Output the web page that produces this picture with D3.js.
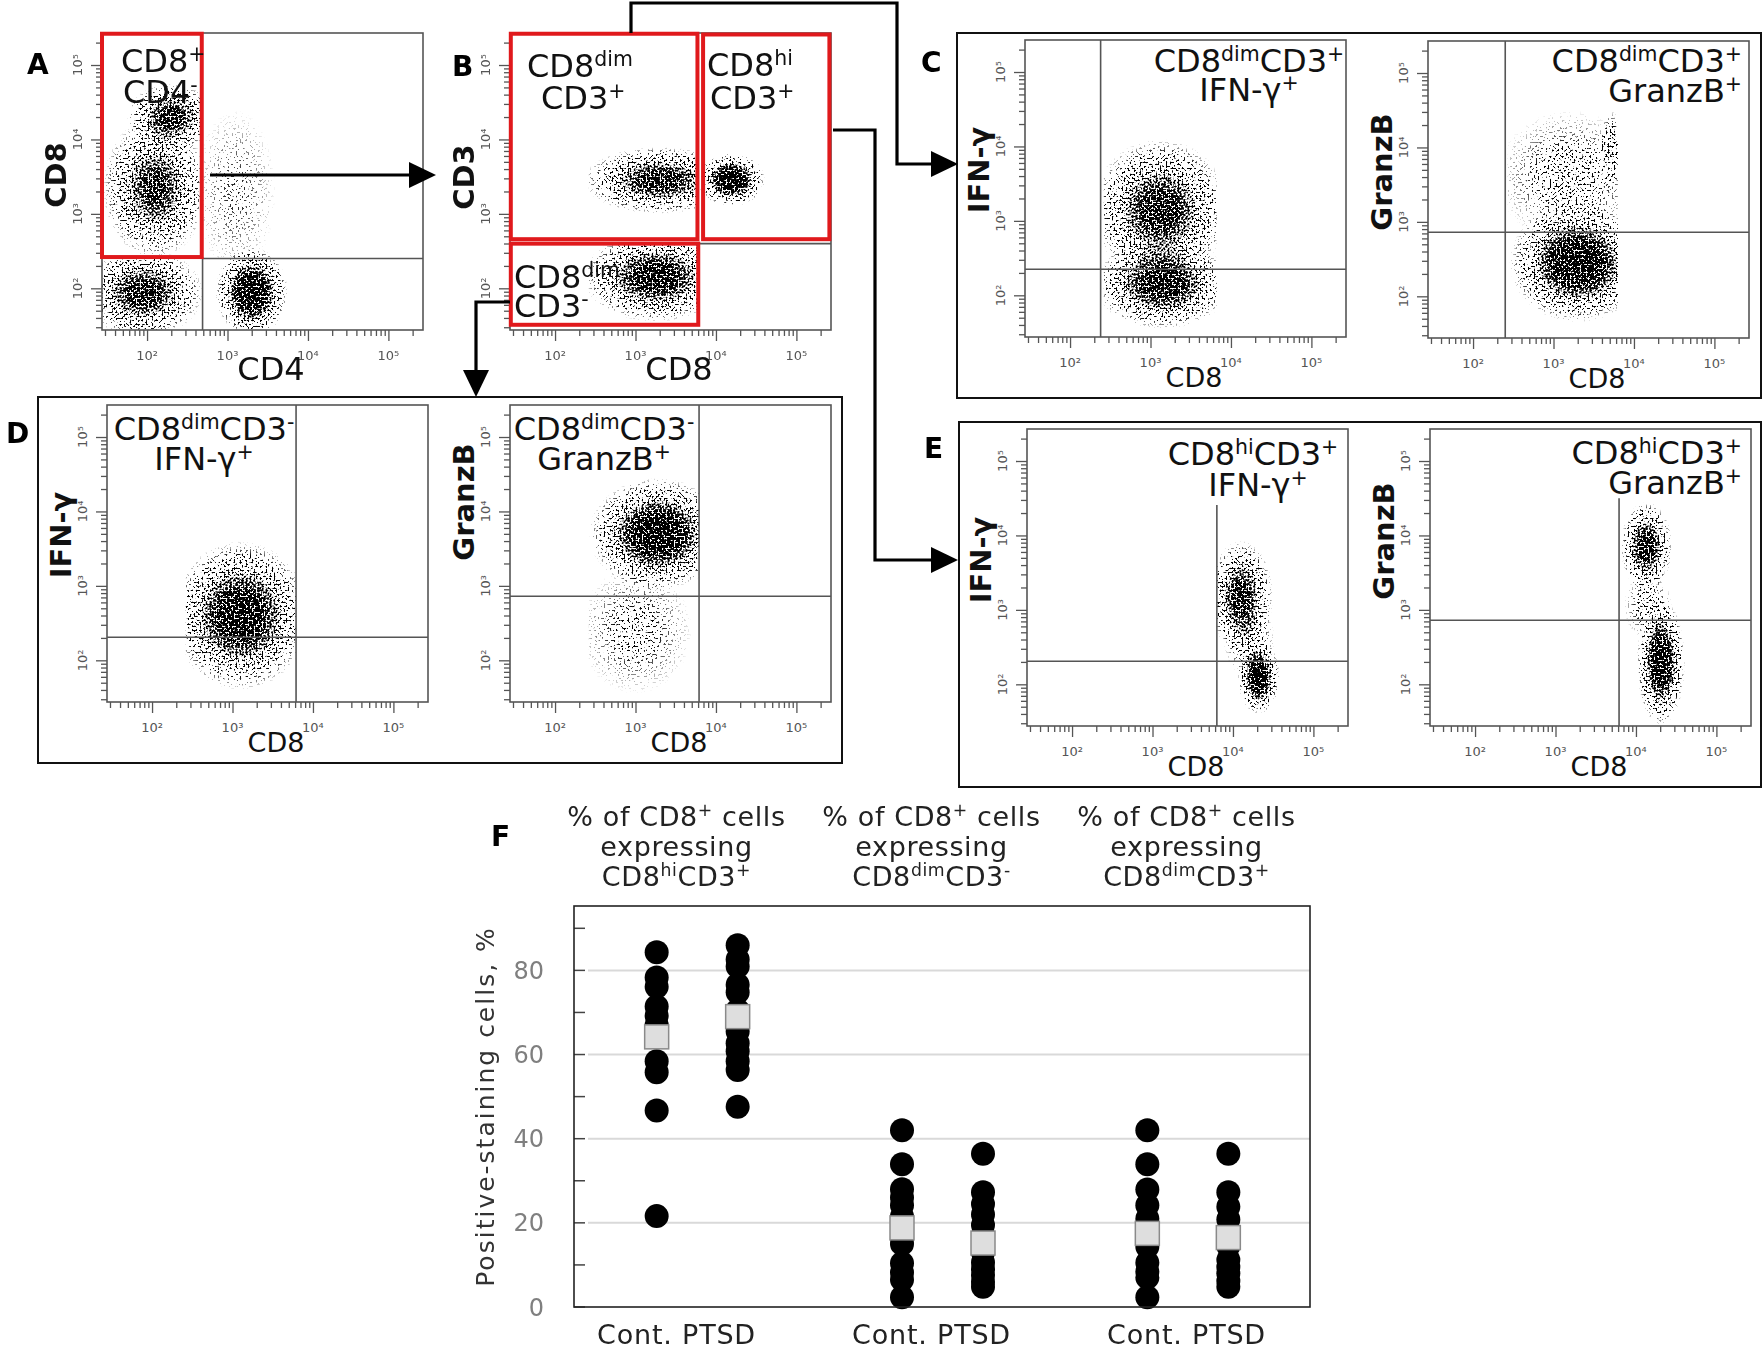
<!DOCTYPE html>
<html>
<head>
<meta charset="utf-8">
<script src="https://cdn.jsdelivr.net/npm/d3@7"></script>
<style>
  body { margin: 0; background: #fff; }
  text { font-family: "DejaVu Sans", sans-serif; }
</style>
</head>
<body>
<div id="figure"></div>
<script>
// ---------------- Panel F: percentages ----------------
var fGroups = ["CD8hiCD3+", "CD8dimCD3-", "CD8dimCD3+"];
var fGroupSup = [["hi", "+"], ["dim", "-"], ["dim", "+"]];
var fCohorts = ["Cont.", "PTSD"];

var contValues = [
  [84.3, 78.3, 76.1, 71.4, 69.2, 67.0, 64.4, 58.4, 55.8, 46.7, 21.6],
  [42.0, 33.9, 28.0, 26.0, 24.2, 21.5, 16.5, 15.0, 10.4, 8.2, 6.5, 2.3],
  [42.0, 33.9, 27.9, 24.2, 21.0, 16.0, 14.3, 10.5, 8.4, 7.0, 2.3]
];
var ptsdValues = [
  [86.0, 82.6, 80.9, 76.6, 74.8, 70.5, 68.0, 65.5, 62.7, 60.8, 58.4, 56.3, 47.6],
  [36.4, 27.3, 24.5, 22.0, 19.5, 17.0, 13.0, 10.6, 9.0, 7.6, 6.0, 4.8],
  [36.4, 27.3, 23.8, 20.8, 18.0, 14.5, 11.2, 9.5, 8.0, 6.2, 4.8]
];
// group means (grey squares)
var contMeans = [64.2, 18.8, 17.5];
var ptsdMeans = [69.0, 15.2, 16.5];

var fTicks = [0, 20, 40, 60, 80];
var fMinorTicks = [10, 30, 50, 70, 90];
var fMax = 95.3;

// ---------------- Panels A-E: flow cytometry (log10 fluorescence) ----------------
var flowDomain = [1.44, 5.43];   // log10 of axis ends
var decades = [2, 3, 4, 5];

// event clouds: [log x centre, log y centre, log x reach, log y reach, density,
//                clip x0, clip x1, clip y0, clip y1]   (clip = gate the events came through)
var clustersA = [
  [2.30, 4.30, 0.55, 0.45, 0.80, 1.44, 2.68, 2.42, 5.43],
  [2.10, 3.35, 0.65, 0.95, 0.75, 1.44, 2.68, 2.42, 5.43],
  [1.95, 1.94, 0.75, 0.60, 0.80, 1.44, 2.70, 1.44, 2.40],
  [3.30, 1.95, 0.45, 0.60, 1.00, 1.44, 5.43, 1.44, 5.43],
  [3.10, 3.30, 0.50, 1.10, 0.18, 2.70, 5.43, 2.40, 5.43]
];
var clustersB = [
  [3.30, 3.45, 0.95, 0.45, 0.80, 2.42, 3.77, 1.44, 5.43],
  [4.19, 3.46, 0.42, 0.36, 1.00, 1.44, 5.43, 1.44, 5.43],
  [3.25, 2.15, 0.90, 0.60, 0.85, 2.42, 3.80, 1.44, 2.62]
];
var clustersC1 = [
  [3.12, 3.15, 0.85, 0.95, 0.80, 2.42, 3.82, 1.50, 5.43],
  [3.15, 2.15, 0.85, 0.60, 0.85, 2.42, 3.82, 1.50, 5.43]
];
var clustersC2 = [
  [3.30, 2.45, 0.85, 0.80, 0.95, 2.43, 3.80, 1.50, 5.43],
  [3.20, 3.60, 0.90, 0.90, 0.28, 2.43, 3.80, 1.50, 5.43],
  [3.72, 4.00, 0.14, 0.50, 0.40, 2.43, 3.80, 1.50, 5.43]
];
var clustersD1 = [
  [3.10, 2.60, 0.85, 1.00, 0.90, 2.42, 3.79, 1.55, 5.43]
];
var clustersD2 = [
  [3.27, 3.70, 0.85, 0.75, 0.95, 2.42, 3.79, 1.50, 5.43],
  [3.00, 2.40, 0.70, 0.85, 0.25, 2.42, 3.79, 1.50, 5.43]
];
var clustersE1 = [
  [4.10, 3.18, 0.40, 0.75, 0.80, 3.80, 5.43, 1.44, 5.43],
  [4.32, 2.10, 0.26, 0.50, 1.00, 3.80, 5.43, 1.44, 5.43],
  [4.20, 2.60, 0.32, 0.50, 0.35, 3.80, 5.43, 1.44, 5.43]
];
var clustersE2 = [
  [4.13, 3.85, 0.32, 0.60, 0.85, 3.79, 5.43, 1.44, 5.43],
  [4.31, 2.30, 0.30, 0.85, 0.95, 3.79, 5.43, 1.44, 5.43],
  [4.15, 3.05, 0.30, 0.45, 0.30, 3.79, 5.43, 1.44, 5.43]
];

// red gates [x0, x1, y0, y1] in log10
var gatesA = [[1.44, 2.68, 2.42, 5.42]];
var gatesB = [[1.45, 3.77, 2.66, 5.42], [3.84, 5.41, 2.66, 5.41], [1.45, 3.78, 1.51, 2.60]];

// quadrant lines [x0, y0, x1, y1] in log10
var linesA = [[2.69, 1.44, 2.69, 2.42], [2.69, 2.40, 5.43, 2.40]];
var linesB = [[3.80, 2.60, 5.43, 2.60]];
var linesC1 = [[2.38, 1.44, 2.38, 5.43], [1.44, 2.35, 5.43, 2.35]];
var linesC2 = [[2.40, 1.44, 2.40, 5.43], [1.44, 2.86, 5.43, 2.86]];
var linesD1 = [[3.79, 1.44, 3.79, 5.43], [1.44, 2.31, 5.43, 2.31]];
var linesD2 = [[3.79, 1.44, 3.79, 5.43], [1.44, 2.86, 5.43, 2.86]];
var linesE1 = [[3.80, 1.44, 3.80, 4.41], [1.44, 2.31, 5.43, 2.31]];
var linesE2 = [[3.79, 1.44, 3.79, 4.50], [1.44, 2.86, 5.43, 2.86]];

// ---------------- layout ----------------
var FW = 321, FH = 297;   // flow plot frame size

var plots = [
  { key: "A", left: 102, top: 33, clusters: clustersA, gates: gatesA, lines: linesA,
    xTitle: "CD4", yTitle: "CD8", titleSize: 32, yTitleY: 175,
    labels: [
      { x: 121, y: 72, anchor: "start", parts: [["CD8", 0], ["+", 1]] },
      { x: 123, y: 103, anchor: "start", parts: [["CD4", 0], ["-", 1]] }] },
  { key: "B", left: 510, top: 33, clusters: clustersB, gates: gatesB, lines: linesB,
    xTitle: "CD8", yTitle: "CD3", titleSize: 32, yTitleY: 177,
    labels: [
      { x: 527, y: 77, anchor: "start", parts: [["CD8", 0], ["dim", 1]] },
      { x: 541, y: 109, anchor: "start", parts: [["CD3", 0], ["+", 1]] },
      { x: 707, y: 76, anchor: "start", parts: [["CD8", 0], ["hi", 1]] },
      { x: 710, y: 109, anchor: "start", parts: [["CD3", 0], ["+", 1]] },
      { x: 514, y: 288, anchor: "start", parts: [["CD8", 0], ["dim", 1]] },
      { x: 514, y: 317, anchor: "start", parts: [["CD3", 0], ["-", 1]] }] },
  { key: "C1", left: 1025, top: 40, clusters: clustersC1, gates: [], lines: linesC1,
    xTitle: "CD8", yTitle: "IFN-γ", titleSize: 27, yTitleY: 170,
    labels: [
      { x: 1249, y: 72, anchor: "middle", parts: [["CD8", 0], ["dim", 1], ["CD3", 0], ["+", 1]] },
      { x: 1249, y: 101, anchor: "middle", parts: [["IFN-γ", 0], ["+", 1]] }] },
  { key: "C2", left: 1428, top: 41, clusters: clustersC2, gates: [], lines: linesC2,
    xTitle: "CD8", yTitle: "GranzB", titleSize: 27, yTitleY: 172,
    labels: [
      { x: 1742, y: 72, anchor: "end", parts: [["CD8", 0], ["dim", 1], ["CD3", 0], ["+", 1]] },
      { x: 1742, y: 102, anchor: "end", parts: [["GranzB", 0], ["+", 1]] }] },
  { key: "D1", left: 107, top: 405, clusters: clustersD1, gates: [], lines: linesD1,
    xTitle: "CD8", yTitle: "IFN-γ", titleSize: 27, yTitleY: 535,
    labels: [
      { x: 204, y: 440, anchor: "middle", parts: [["CD8", 0], ["dim", 1], ["CD3", 0], ["-", 1]] },
      { x: 204, y: 470, anchor: "middle", parts: [["IFN-γ", 0], ["+", 1]] }] },
  { key: "D2", left: 510, top: 405, clusters: clustersD2, gates: [], lines: linesD2,
    xTitle: "CD8", yTitle: "GranzB", titleSize: 27, yTitleY: 502,
    labels: [
      { x: 604, y: 440, anchor: "middle", parts: [["CD8", 0], ["dim", 1], ["CD3", 0], ["-", 1]] },
      { x: 604, y: 470, anchor: "middle", parts: [["GranzB", 0], ["+", 1]] }] },
  { key: "E1", left: 1027, top: 429, clusters: clustersE1, gates: [], lines: linesE1,
    xTitle: "CD8", yTitle: "IFN-γ", titleSize: 27, yTitleY: 560,
    labels: [
      { x: 1253, y: 465, anchor: "middle", parts: [["CD8", 0], ["hi", 1], ["CD3", 0], ["+", 1]] },
      { x: 1258, y: 496, anchor: "middle", parts: [["IFN-γ", 0], ["+", 1]] }] },
  { key: "E2", left: 1430, top: 429, clusters: clustersE2, gates: [], lines: linesE2,
    xTitle: "CD8", yTitle: "GranzB", titleSize: 27, yTitleY: 541,
    labels: [
      { x: 1742, y: 464, anchor: "end", parts: [["CD8", 0], ["hi", 1], ["CD3", 0], ["+", 1]] },
      { x: 1742, y: 494, anchor: "end", parts: [["GranzB", 0], ["+", 1]] }] }
];

var supDigits = { 2: "²", 3: "³", 4: "⁴", 5: "⁵" };

// ---------------- svg ----------------
var svg = d3.select("#figure").append("svg")
  .attr("width", 1763)
  .attr("height", 1352)
  .style("display", "block");

svg.append("rect").attr("width", 1763).attr("height", 1352).attr("fill", "#fff");

var defs = svg.append("defs");

// density -> speckled events: threshold the cloud alpha against a fine noise field
var speckle = defs.append("filter")
  .attr("id", "speckle")
  .attr("color-interpolation-filters", "sRGB")
  .attr("x", "-5%").attr("y", "-5%").attr("width", "110%").attr("height", "110%");
speckle.append("feTurbulence")
  .attr("type", "fractalNoise").attr("baseFrequency", 0.5)
  .attr("numOctaves", 1).attr("seed", 11).attr("result", "noise");
speckle.append("feColorMatrix")
  .attr("in", "noise").attr("type", "matrix")
  .attr("values", "0 0 0 0 0  0 0 0 0 0  0 0 0 0 0  3 0 0 0 -1")
  .attr("result", "thr");
speckle.append("feComposite")
  .attr("in", "SourceAlpha").attr("in2", "thr").attr("operator", "arithmetic")
  .attr("k1", 0).attr("k2", 5).attr("k3", -5).attr("k4", 0)
  .attr("result", "dots");
speckle.append("feFlood").attr("flood-color", "#000").attr("result", "ink");
speckle.append("feComposite").attr("in", "ink").attr("in2", "dots").attr("operator", "in");

var blob = defs.append("radialGradient").attr("id", "blob");
[[0, 1], [0.25, 0.9], [0.5, 0.65], [0.75, 0.3], [1, 0]].forEach(s => {
  blob.append("stop")
    .attr("offset", s[0])
    .attr("stop-color", "#000")
    .attr("stop-opacity", s[1]);
});

// text with raised parts, parts = [[string, isSuperscript], ...]
function richText(sel, parts) {
  var raised = false;
  parts.forEach(p => {
    var t = sel.append("tspan").text(p[0]);
    if (p[1] && !raised) {
      t.attr("dy", "-0.55em").attr("font-size", "0.64em");
      raised = true;
    } else if (p[1]) {
      t.attr("font-size", "0.64em");
    } else if (raised) {
      t.attr("dy", "0.352em");
      raised = false;
    }
  });
  return sel;
}

// ---------------- flow plots ----------------
function drawFlow(p) {
  var x = d3.scaleLog()
    .domain(flowDomain.map(v => Math.pow(10, v)))
    .range([p.left, p.left + FW]);
  var y = d3.scaleLog()
    .domain(flowDomain.map(v => Math.pow(10, v)))
    .range([p.top + FH, p.top]);
  var lx = v => x(Math.pow(10, v));
  var ly = v => y(Math.pow(10, v));

  var g = svg.append("g").attr("class", "flow-" + p.key);

  // event clouds
  var cloud = g.append("g").attr("filter", "url(#speckle)");
  p.clusters.forEach((c, i) => {
    var clipId = "clip-" + p.key + "-" + i;
    defs.append("clipPath").attr("id", clipId)
      .append("rect")
      .attr("x", lx(c[5]))
      .attr("width", lx(c[6]) - lx(c[5]))
      .attr("y", ly(c[8]))
      .attr("height", ly(c[7]) - ly(c[8]));
    cloud.append("ellipse")
      .attr("cx", lx(c[0]))
      .attr("cy", ly(c[1]))
      .attr("rx", lx(c[0] + c[2]) - lx(c[0]))
      .attr("ry", ly(c[1]) - ly(c[1] + c[3]))
      .attr("fill", "url(#blob)")
      .attr("opacity", c[4])
      .attr("clip-path", "url(#" + clipId + ")");
  });

  // log ticks, outside the frame
  var minor = [];
  d3.range(1, 6).forEach(k => {
    d3.range(1, 10).forEach(m => {
      var v = m * Math.pow(10, k);
      var lv = Math.log10(v);
      if (lv >= flowDomain[0] && lv <= flowDomain[1] && m !== 1) minor.push(v);
    });
  });
  var majors = decades.map(d => Math.pow(10, d));

  function tickAxis(axis, size, values) {
    return axis.tickValues(values).tickSize(size).tickFormat("");
  }
  [[minor, 6], [majors, 11]].forEach(t => {
    g.append("g")
      .attr("transform", `translate(0, ${p.top + FH})`)
      .call(tickAxis(d3.axisBottom(x), t[1], t[0]))
      .call(s => s.select(".domain").remove())
      .selectAll("line").attr("stroke", "#555").attr("stroke-width", 1.3);
    g.append("g")
      .attr("transform", `translate(${p.left}, 0)`)
      .call(tickAxis(d3.axisLeft(y), t[1], t[0]))
      .call(s => s.select(".domain").remove())
      .selectAll("line").attr("stroke", "#555").attr("stroke-width", 1.3);
  });

  g.selectAll("text.xtick")
    .data(decades)
    .join("text")
    .attr("class", "xtick")
    .attr("x", d => lx(d))
    .attr("y", p.top + FH + 30)
    .attr("text-anchor", "middle")
    .attr("font-size", 13)
    .attr("fill", "#555")
    .text(d => "10" + supDigits[d]);

  g.selectAll("text.ytick")
    .data(decades)
    .join("text")
    .attr("class", "ytick")
    .attr("transform", d => `translate(${p.left - 20}, ${ly(d)}) rotate(-90)`)
    .attr("text-anchor", "middle")
    .attr("font-size", 13)
    .attr("fill", "#555")
    .text(d => "10" + supDigits[d]);

  // quadrant lines
  g.selectAll("line.quad")
    .data(p.lines)
    .join("line")
    .attr("class", "quad")
    .attr("x1", d => lx(d[0])).attr("y1", d => ly(d[1]))
    .attr("x2", d => lx(d[2])).attr("y2", d => ly(d[3]))
    .attr("stroke", "#555")
    .attr("stroke-width", 1.6);

  // frame
  g.append("rect")
    .attr("x", p.left).attr("y", p.top)
    .attr("width", FW).attr("height", FH)
    .attr("fill", "none")
    .attr("stroke", "#555")
    .attr("stroke-width", 1.6);

  // red gates
  g.selectAll("rect.gate")
    .data(p.gates)
    .join("rect")
    .attr("class", "gate")
    .attr("x", d => lx(d[0]))
    .attr("y", d => ly(d[3]))
    .attr("width", d => lx(d[1]) - lx(d[0]))
    .attr("height", d => ly(d[2]) - ly(d[3]))
    .attr("fill", "none")
    .attr("stroke", "#e0191c")
    .attr("stroke-width", 4);

  // population labels
  p.labels.forEach(l => {
    richText(g.append("text")
      .attr("x", l.x).attr("y", l.y)
      .attr("text-anchor", l.anchor)
      .attr("font-size", 32)
      .attr("fill", "#111"), l.parts);
  });

  // axis titles
  g.append("text")
    .attr("x", p.left + 169)
    .attr("y", p.top + FH + 50)
    .attr("text-anchor", "middle")
    .attr("font-size", p.titleSize)
    .attr("fill", "#111")
    .text(p.xTitle);

  g.append("text")
    .attr("transform", `translate(${p.left - 36}, ${p.yTitleY}) rotate(-90)`)
    .attr("text-anchor", "middle")
    .attr("font-size", 29)
    .attr("font-weight", "bold")
    .attr("fill", "#111")
    .text(p.yTitle);
}

// panel boxes for C, D, E
var boxes = [[957, 33, 1761, 398], [38, 397, 842, 763], [959, 422, 1761, 787]];
svg.selectAll("rect.box")
  .data(boxes)
  .join("rect")
  .attr("class", "box")
  .attr("x", d => d[0]).attr("y", d => d[1])
  .attr("width", d => d[2] - d[0]).attr("height", d => d[3] - d[1])
  .attr("fill", "none")
  .attr("stroke", "#111")
  .attr("stroke-width", 2);

plots.forEach(drawFlow);

// gating arrows
var arrows = [
  { pts: [[210, 175], [412, 175]], tip: [436, 175], dir: "right" },
  { pts: [[631, 33], [631, 3], [897, 3], [897, 164], [934, 164]], tip: [958, 164], dir: "right" },
  { pts: [[833, 130], [875, 130], [875, 560], [934, 560]], tip: [958, 560], dir: "right" },
  { pts: [[510, 302], [476, 302], [476, 374]], tip: [476, 397], dir: "down" }
];
arrows.forEach(a => {
  svg.append("path")
    .attr("d", d3.line()(a.pts))
    .attr("fill", "none")
    .attr("stroke", "#000")
    .attr("stroke-width", 3.2);
  var t = a.tip;
  var head = a.dir === "right"
    ? [[t[0] - 27, t[1] - 13], t, [t[0] - 27, t[1] + 13]]
    : [[t[0] - 13, t[1] - 27], t, [t[0] + 13, t[1] - 27]];
  svg.append("path")
    .attr("d", d3.line()(head) + "Z")
    .attr("fill", "#000");
});

// panel letters
var letters = [["A", 27, 74], ["B", 452, 76], ["C", 921, 72], ["D", 6, 443], ["E", 924, 458], ["F", 491, 846]];
svg.selectAll("text.letter")
  .data(letters)
  .join("text")
  .attr("class", "letter")
  .attr("x", d => d[1]).attr("y", d => d[2])
  .attr("font-family", "DejaVu Sans Condensed, DejaVu Sans")
  .attr("font-weight", "bold")
  .attr("font-size", 28)
  .attr("fill", "#000")
  .text(d => d[0]);

// ---------------- panel F ----------------
var fFont = "Open Sans, Noto Sans, sans-serif";
var fLeft = 574, fRight = 1310, fTop = 906, fBottom = 1307;

var fx = d3.scaleBand().domain(fGroups).range([fLeft, fRight]);
var fSub = d3.scalePoint().domain(fCohorts).range([-40, 41]);
var fLabelX = d3.scaleBand().domain(fGroups).range([549, 1314]);
var fy = d3.scaleLinear().domain([0, fMax]).range([fBottom, fTop]);

var fg = svg.append("g").attr("class", "panel-f");

// gridlines
fg.selectAll("line.grid")
  .data(fTicks.filter(d => d > 0))
  .join("line")
  .attr("class", "grid")
  .attr("x1", fLeft + 14).attr("x2", fRight)
  .attr("y1", d => fy(d)).attr("y2", d => fy(d))
  .attr("stroke", "#d9d9d9")
  .attr("stroke-width", 2);

// inward ticks
fg.selectAll("line.ftick")
  .data(fTicks.concat(fMinorTicks))
  .join("line")
  .attr("class", "ftick")
  .attr("x1", fLeft).attr("x2", fLeft + 11)
  .attr("y1", d => fy(d)).attr("y2", d => fy(d))
  .attr("stroke", "#444")
  .attr("stroke-width", 1.5);

fg.selectAll("text.flabel")
  .data(fTicks)
  .join("text")
  .attr("class", "flabel")
  .attr("x", fLeft - 30)
  .attr("y", d => fy(d))
  .attr("dy", "0.36em")
  .attr("text-anchor", "end")
  .attr("font-family", fFont)
  .attr("font-size", 24)
  .attr("fill", "#7f7f7f")
  .text(d => d);

// individual subjects
var points = [];
fGroups.forEach((grp, i) => {
  contValues[i].forEach(v => points.push({ grp: grp, cohort: "Cont.", v: v }));
  ptsdValues[i].forEach(v => points.push({ grp: grp, cohort: "PTSD", v: v }));
});
var colX = d => fx(d.grp) + fx.bandwidth() / 2 + fSub(d.cohort);

fg.selectAll("circle.subject")
  .data(points)
  .join("circle")
  .attr("class", "subject")
  .attr("cx", colX)
  .attr("cy", d => fy(d.v))
  .attr("r", 12)
  .attr("fill", "#000");

// means
var means = [];
fGroups.forEach((grp, i) => {
  means.push({ grp: grp, cohort: "Cont.", v: contMeans[i] });
  means.push({ grp: grp, cohort: "PTSD", v: ptsdMeans[i] });
});
fg.selectAll("rect.mean")
  .data(means)
  .join("rect")
  .attr("class", "mean")
  .attr("x", d => colX(d) - 12)
  .attr("y", d => fy(d.v) - 12)
  .attr("width", 24)
  .attr("height", 24)
  .attr("fill", "#dedede")
  .attr("stroke", "#8a8a8a")
  .attr("stroke-width", 1.5);

// frame
fg.append("rect")
  .attr("x", fLeft).attr("y", fTop)
  .attr("width", fRight - fLeft).attr("height", fBottom - fTop)
  .attr("fill", "none")
  .attr("stroke", "#222")
  .attr("stroke-width", 1.6);

// y title
fg.append("text")
  .attr("transform", `translate(${fLeft - 80}, ${(fTop + fBottom) / 2}) rotate(-90)`)
  .attr("text-anchor", "middle")
  .attr("font-family", fFont)
  .attr("font-size", 25)
  .attr("letter-spacing", 2)
  .attr("fill", "#333")
  .text("Positive-staining cells, %");

// group headers and cohort labels
fGroups.forEach((grp, i) => {
  var cx = fLabelX(grp) + fLabelX.bandwidth() / 2;
  var h = fg.append("text")
    .attr("text-anchor", "middle")
    .attr("font-family", fFont)
    .attr("font-size", 27)
    .attr("letter-spacing", 0.6)
    .attr("fill", "#222");
  richText(h.append("tspan").attr("x", cx).attr("y", 826), [["% of CD8", 0], ["+", 1], [" cells", 0]]);
  h.append("tspan").attr("x", cx).attr("y", 856).text("expressing");
  richText(h.append("tspan").attr("x", cx).attr("y", 886),
    [["CD8", 0], [fGroupSup[i][0], 1], ["CD3", 0], [fGroupSup[i][1], 1]]);

  fg.append("text")
    .attr("x", cx)
    .attr("y", 1344)
    .attr("text-anchor", "middle")
    .attr("font-family", fFont)
    .attr("font-size", 27)
    .attr("letter-spacing", 0.8)
    .attr("fill", "#222")
    .text(fCohorts.join(" "));
});
</script>
</body>
</html>
